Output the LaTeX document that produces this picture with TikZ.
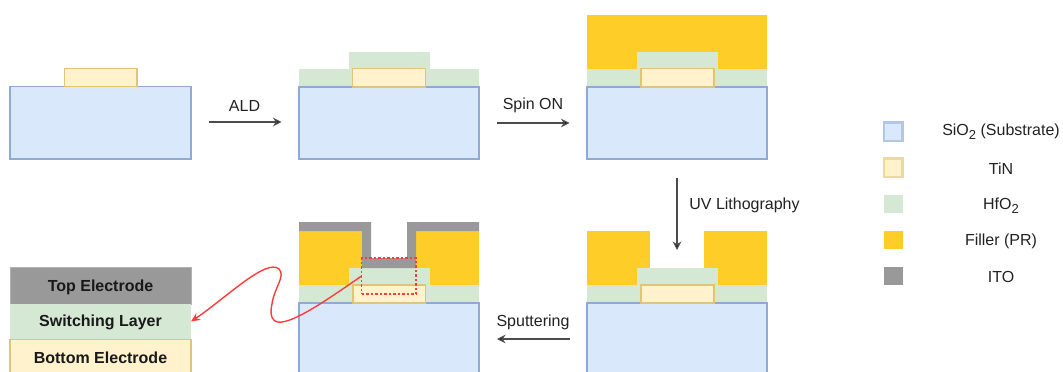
\documentclass[tikz,border=0pt]{standalone}
\usepackage{fontspec}
\setmainfont{Liberation Sans}
\usetikzlibrary{arrows.meta}
\newcommand{\subtwo}{\raisebox{-3.5pt}{\fontsize{13}{13}\selectfont 2}}
\newcommand{\lay}[6]{%
  \pgfmathsetmacro{\lw}{#5-#3}\pgfmathsetmacro{\lh}{#6-#4}%
  \pgfmathsetmacro{\lx}{(#3+#5)/2}\pgfmathsetmacro{\ly}{(#4+#6)/2}%
  \node[#2,minimum width=\lw pt,minimum height=\lh pt] (#1) at (\lx,\ly) {};}
\tikzset{
  x=1pt,y=-1pt,
  every node/.style={inner sep=0pt,outer sep=0pt},
  subst/.style={draw=subedge,fill=subfill,line width=1.3pt},
  tin/.style={draw=tinedge,fill=tinfill,line width=1.3pt},
  hfo/.style={fill=hfofill},
  filler/.style={fill=fillercol},
  itolayer/.style={fill=itocol},
  legbox/.style={line width=2.2pt},
  lab/.style={font=\fontsize{16}{18}\selectfont,text=labcol,anchor=center},
  blab/.style={font=\fontsize{16}{18}\bfseries\selectfont,text=black!90,anchor=center},
  step arrow/.style={draw=black!70,line width=1.2pt,-{Stealth[length=8.5pt,width=8.5pt,fill=black]}},
  redbox/.style={draw=redcol,line width=1.2pt,dash pattern=on 2.5pt off 2pt},
}
\definecolor{subfill}{HTML}{DAE8FC}
\definecolor{subedge}{HTML}{8FABD3}
\definecolor{subleg}{HTML}{B2C6E6}
\definecolor{tinfill}{HTML}{FFF2CC}
\definecolor{tinedge}{HTML}{E0C576}
\definecolor{tinleg}{HTML}{EBD99E}
\definecolor{hfofill}{HTML}{D5E8D4}
\definecolor{fillercol}{HTML}{FFCD28}
\definecolor{itocol}{HTML}{999999}
\definecolor{redcol}{HTML}{FF3B3B}
\definecolor{labcol}{HTML}{222222}
\begin{document}
\begin{tikzpicture}
\fill[white] (0,0) rectangle (1063,372);
\clip (0,0) rectangle (1063,372);
\useasboundingbox (0,0) rectangle (1063,372);
% panel 1
\lay{aS}{subst}{10}{86.5}{191}{159}
\lay{aT}{tin}{64.5}{68.5}{137}{86.5}
% panel 2
\lay{bH}{hfo}{299}{69}{479}{87}
\lay{bU}{hfo}{348.5}{52}{429.5}{69}
\lay{bS}{subst}{299}{87}{479}{159}
\lay{bT}{tin}{352.5}{68.5}{425.5}{87}
% panel 3
\lay{cF}{filler}{587}{15}{767}{69}
\lay{cH}{hfo}{587}{69}{767}{87}
\lay{cU}{hfo}{637}{52}{718}{69}
\lay{cS}{subst}{587}{87}{767}{159}
\lay{cT}{tin}{641}{68.5}{714}{87}
% panel 4
\lay{dFl}{filler}{587}{231}{650}{285}
\lay{dFr}{filler}{704}{231}{767}{285}
\lay{dH}{hfo}{587}{285}{767}{303}
\lay{dU}{hfo}{637}{268}{718}{285}
\lay{dS}{subst}{587}{303}{767}{376}
\lay{dT}{tin}{641}{285}{714}{303}
% panel 5
\lay{eFl}{filler}{299}{231}{362}{285}
\lay{eFr}{filler}{416}{231}{479}{285}
\lay{eH}{hfo}{299}{285}{479}{303}
\lay{eU}{hfo}{348.5}{268}{429.5}{285}
\lay{eS}{subst}{299}{303}{479}{376}
\lay{eT}{tin}{353}{285}{425.5}{303}
\fill[itocol] (299,222) -- (371,222) -- (371,258) -- (407,258) -- (407,222) -- (479,222)
  -- (479,231) -- (416,231) -- (416,268) -- (362,268) -- (362,231) -- (299,231) -- cycle;
\lay{zoomBox}{redbox}{361.5}{258}{416}{294}
% stack
\lay{stTop}{draw=black!30,fill=itocol,line width=.6pt}{10}{267}{191}{304}
\lay{stMid}{hfo}{10}{304}{191}{339}
\lay{stBot}{tin}{10}{339.5}{191}{376}
\node[blab] (stTopL) at (100.5,287) {Top Electrode};
\node[blab] (stMidL) at (100.5,322) {Switching Layer};
\node[blab] (stBotL) at (100.5,358) {Bottom Electrode};
% process arrows
\coordinate (a1) at (209,122); \coordinate (a2) at (281.5,122);
\coordinate (b1) at (497,123); \coordinate (b2) at (569.5,123);
\coordinate (c1) at (677,178); \coordinate (c2) at (677,250);
\coordinate (d1) at (570,339); \coordinate (d2) at (497,339);
\draw[step arrow] (a1) -- (a2);
\draw[step arrow] (b1) -- (b2);
\draw[step arrow] (c1) -- (c2);
\draw[step arrow] (d1) -- (d2);
\node[lab] (ald) at (244.5,105.5) {ALD};
\node[lab] (spin) at (533,105.5) {Spin ON};
\node[lab] (uv) at (744.5,205.5) {UV Lithography};
\node[lab] (sput) at (533,322.5) {Sputtering};
% red curve
\draw[draw=redcol,line width=1.4pt,-{Stealth[length=9pt,width=8pt,fill=redcol]}]
  (zoomBox.west) .. controls (330,298) and (298,320) .. (282,322)
  .. controls (268,324) and (271,308) .. (272,304)
  .. controls (274,288) and (286,276) .. (279,269)
  .. controls (266,258) and (226,298) .. (stMid.east);
% legend
\lay{l1}{draw=subleg,fill=subfill,legbox}{884}{122.5}{902.5}{141}
\lay{l2}{draw=tinleg,fill=tinfill,legbox}{884}{158.5}{902.5}{177}
\lay{l3}{hfo}{884}{195}{902.5}{213}
\lay{l4}{filler}{884}{231}{902.5}{249}
\lay{l5}{itolayer}{884}{267}{902.5}{285}
\node[lab] (t1) at (1001,131.5) {SiO\subtwo{} (Substrate)};
\node[lab] (t2) at (1001,168.5) {TiN};
\node[lab] (t3) at (1001,205.5) {HfO\subtwo};
\node[lab] (t4) at (1001,241) {Filler (PR)};
\node[lab] (t5) at (1001,277) {ITO};
\end{tikzpicture}
\end{document}
